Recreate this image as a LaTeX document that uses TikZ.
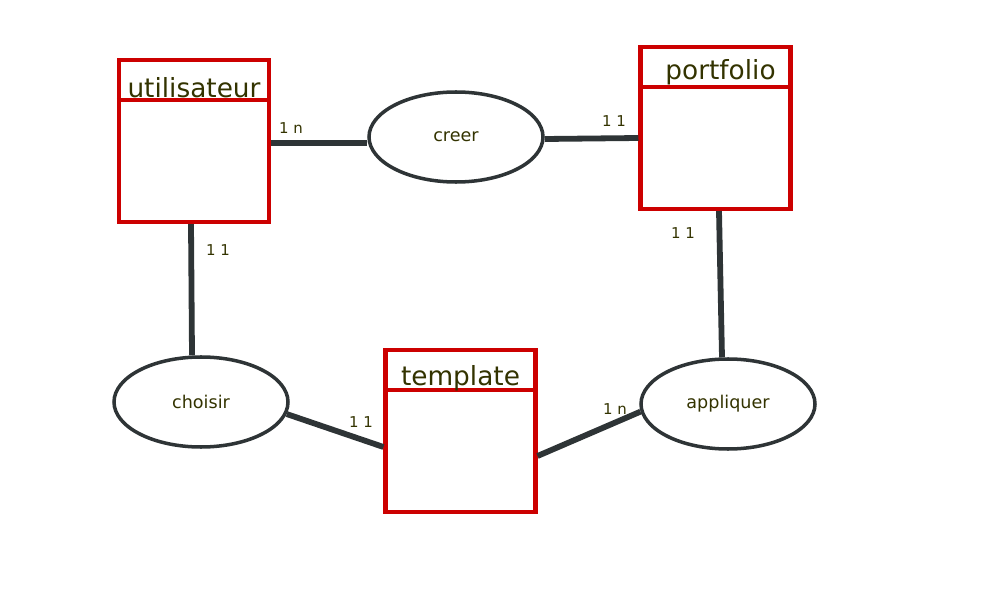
\documentclass[tikz,border=0pt]{standalone}
\usepackage{fontspec}
\setmainfont{DejaVu Sans}
\usetikzlibrary{shapes.geometric}
\definecolor{boxred}{RGB}{204,0,0}
\definecolor{linegray}{RGB}{46,52,54}
\definecolor{ink}{RGB}{51,51,0}

\begin{document}
\begin{tikzpicture}[
    entity/.style={rectangle, draw=boxred, line width=2.3pt, minimum width=3cm, minimum height=3.24cm},
    title/.style={text=ink, font=\fontsize{15}{18}\selectfont},
    relation/.style={ellipse, draw=linegray, line width=2pt, minimum width=3.48cm, minimum height=1.8cm, text=ink, font=\fontsize{10}{12}\selectfont},
    link/.style={draw=linegray, line width=3.3pt},
    card/.style={text=ink, font=\fontsize{8.5}{10}\selectfont}
]
    \useasboundingbox (0, 0) rectangle (20, 12);

    \node[entity] (utilisateur) at (3.88, 9.18) {};
    \node[entity] (portfolio) at (14.31, 9.44) {};
    \node[entity] (template) at (9.21, 3.38) {};

    \draw[boxred, line width=2.3pt] ([yshift=-0.84cm]utilisateur.north west) -- ([yshift=-0.84cm]utilisateur.north east);
    \draw[boxred, line width=2.3pt] ([yshift=-0.84cm]portfolio.north west) -- ([yshift=-0.84cm]portfolio.north east);
    \draw[boxred, line width=2.3pt] ([yshift=-0.84cm]template.north west) -- ([yshift=-0.84cm]template.north east);

    \node[title] (tUtilisateur) at ([yshift=-0.6cm]utilisateur.north) {utilisateur};
    \node[title] (tPortfolio) at ([xshift=0.1cm, yshift=-0.54cm]portfolio.north) {portfolio};
    \node[title] (tTemplate) at ([yshift=-0.6cm]template.north) {template};

    \node[relation] (creer) at (9.12, 9.26) {creer};
    \node[relation] (choisir) at (4.02, 3.96) {choisir};
    \node[relation] (appliquer) at (14.56, 3.92) {appliquer};

    \draw[link] ([yshift=-0.04cm]utilisateur.east) -- ([yshift=-0.12cm]creer.west);
    \draw[link] ([yshift=-0.04cm]creer.east) -- ([yshift=-0.2cm]portfolio.west);
    \draw[link] ([xshift=-0.06cm]utilisateur.south) -- ([xshift=-0.18cm]choisir.north);
    \draw[link] ([xshift=0.07cm]portfolio.south) -- ([xshift=-0.12cm]appliquer.north);
    \draw[link] (choisir.-8) -- ([yshift=-0.32cm]template.west);
    \draw[link] ([yshift=-0.5cm]template.east) -- (appliquer.185);

    \node[card] (cUtilCreer) at (5.82, 9.44) {1 n};
    \node[card] (cPortCreer) at (12.28, 9.58) {1 1};
    \node[card] (cUtilChoisir) at (4.36, 7.0) {1 1};
    \node[card] (cPortAppl) at (13.66, 7.34) {1 1};
    \node[card] (cTempChoisir) at (7.22, 3.56) {1 1};
    \node[card] (cTempAppl) at (12.3, 3.82) {1 n};
\end{tikzpicture}
\end{document}
